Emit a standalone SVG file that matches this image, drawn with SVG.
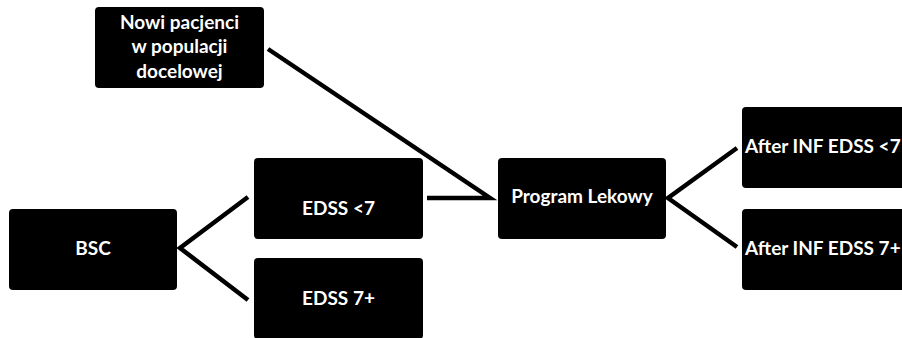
<svg xmlns="http://www.w3.org/2000/svg" width="902" height="338" viewBox="0 0 902 338">
<style>
.box{fill:#000;}
.t{fill:#fff;font-family:Lato,"Liberation Sans",sans-serif;font-size:19px;font-weight:bold;text-anchor:middle;}
.tl{text-anchor:start;}
.c{stroke:#000;stroke-width:4.5;fill:none;stroke-linecap:butt;stroke-linejoin:miter;}
</style>
<rect width="902" height="338" fill="#fff"/>
<g id="connectors">
<polyline class="c" points="268,49 490,198 427,198"/>
<polyline class="c" points="248,197 180,248 248,300"/>
<polyline class="c" points="737,148 668,198 737,247"/>
</g>
<g id="nowi"><rect class="box" x="95" y="7" width="169" height="81" rx="4"/>
<text class="t" x="179.5" y="29">Nowi pacjenci</text>
<text class="t" x="179.5" y="53">w populacji</text>
<text class="t" x="179.5" y="78">docelowej</text></g>
<g id="edss-lt7"><rect class="box" x="254" y="158" width="169" height="81" rx="4"/>
<text class="t" x="338.5" y="215">EDSS &lt;7</text></g>
<g id="edss-7plus"><rect class="box" x="254" y="258" width="169" height="81" rx="4"/>
<text class="t" x="338.5" y="305">EDSS 7+</text></g>
<g id="bsc"><rect class="box" x="9" y="209" width="168" height="81" rx="4"/>
<text class="t" x="93" y="255">BSC</text></g>
<g id="program"><rect class="box" x="498" y="158" width="168" height="81" rx="4"/>
<text class="t" x="582" y="203">Program Lekowy</text></g>
<g id="after-lt7"><rect class="box" x="742" y="107" width="169" height="81" rx="4"/>
<text class="t tl" x="745" y="153">After INF EDSS &lt;7</text></g>
<g id="after-7plus"><rect class="box" x="742" y="209" width="169" height="81" rx="4"/>
<text class="t tl" x="745" y="255">After INF EDSS 7+</text></g>
</svg>
